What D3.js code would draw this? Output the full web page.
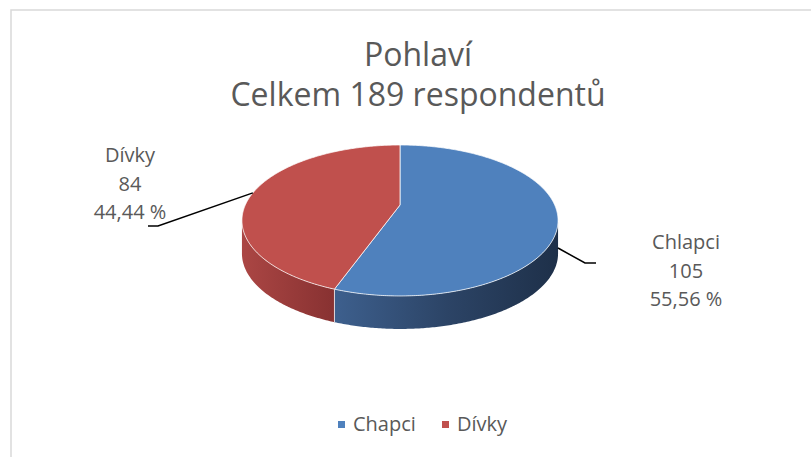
<!DOCTYPE html>
<html>
<head>
<meta charset="utf-8">
<script src="https://cdn.jsdelivr.net/npm/d3@7"></script>
<style>
  body { margin: 0; background: #fff; }
  svg text { font-family: "Open Sans", "Noto Sans", sans-serif; fill: #595959; }
</style>
</head>
<body>
<div id="chart"></div>
<script>
// data
const categories = ["Chlapci", "Dívky"];
const values = [105, 84];
const legendLabels = ["Chapci", "Dívky"];
const titleLines = ["Pohlaví", "Celkem 189 respondentů"];
const colors = ["#4f81bd", "#c0504d"];

var width = 811, height = 457;
var cx = 400, cy = 205;       // projected centre of the top face
var a = 154.7, b = 72.3;      // horizontal / vertical radius factors
var s = 0.205;                // perspective strength
var depth = 33;

var svg = d3.select("#chart").append("svg")
    .attr("width", width)
    .attr("height", height);

// frame
svg.append("rect")
    .attr("x", 11).attr("y", 10)
    .attr("width", 900).attr("height", 500)
    .attr("fill", "none")
    .attr("stroke", "#d9d9d9")
    .attr("stroke-width", 1.5);

// title
svg.selectAll(".title")
    .data(titleLines)
    .enter().append("text")
    .attr("class", "title")
    .attr("x", 418)
    .attr("y", (d, i) => 66 + i * 40)
    .attr("text-anchor", "middle")
    .style("font-size", "32px")
    .text(d => d);

// projection of a point on the pie disc (angle clockwise from top)
function proj(t, r, dy) {
    var u = r * Math.sin(t), v = -r * Math.cos(t);
    var w = 1 - s * v;
    return [cx + a * u / w, cy + b * v / w + (dy || 0)];
}

function arcPoints(t0, t1, dy) {
    var n = Math.max(2, Math.ceil(Math.abs(t1 - t0) / 0.01));
    var pts = [];
    for (var i = 0; i <= n; i++) {
        pts.push(proj(t0 + (t1 - t0) * i / n, 1, dy));
    }
    return pts;
}

var pie = d3.pie().sort(null).value(d => d)(values);
var line = d3.line();

// gradients for the side walls
var defs = svg.append("defs");
var wallStops = [
    [[0, "#3d5f8d"], [0.5, "#2c4466"], [1, "#1e3049"]],
    [[0, "#ab4644"], [1, "#873131"]]
];
var wallX = [[336, 558], [242, 336]];
wallStops.forEach(function(st, i) {
    var g = defs.append("linearGradient")
        .attr("id", "wall" + i)
        .attr("gradientUnits", "userSpaceOnUse")
        .attr("x1", wallX[i][0]).attr("x2", wallX[i][1])
        .attr("y1", 0).attr("y2", 0);
    st.forEach(function(p) {
        g.append("stop").attr("offset", p[0]).attr("stop-color", p[1]);
    });
});

// visible wall range (silhouette of the projected disc)
var tLeft = Math.acos(-s), tRight = 2 * Math.PI - Math.acos(-s);

pie.forEach(function(d, i) {
    var t0 = Math.max(d.startAngle, tLeft);
    var t1 = Math.min(d.endAngle, tRight);
    if (t1 <= t0) return;
    var top = arcPoints(t0, t1, 0);
    var bottom = arcPoints(t0, t1, depth).reverse();
    svg.append("path")
        .attr("d", line(top.concat(bottom)) + "Z")
        .attr("fill", "url(#wall" + i + ")");
});

// seam between walls
pie.forEach(function(d) {
    var t = d.endAngle;
    if (t > tLeft && t < tRight) {
        var p = proj(t, 1, 0);
        svg.append("line")
            .attr("x1", p[0]).attr("y1", p[1])
            .attr("x2", p[0]).attr("y2", p[1] + depth)
            .attr("stroke", "#ffffff")
            .attr("stroke-opacity", 0.7)
            .attr("stroke-width", 1);
    }
});

// top faces
pie.forEach(function(d, i) {
    var pts = [[cx, cy]].concat(arcPoints(d.startAngle, d.endAngle, 0));
    svg.append("path")
        .attr("d", line(pts) + "Z")
        .attr("fill", colors[i])
        .attr("stroke", "#ffffff")
        .attr("stroke-opacity", 0.75)
        .attr("stroke-width", 1)
        .attr("stroke-linejoin", "round");
});

// data labels + leader lines
var total = d3.sum(values);
var fmtPct = v => (v / total * 100).toFixed(2).replace(".", ",") + " %";
var labelPos = [
    { x: 686, y: 249, elbow: [585, 263], end: [596, 263], dy: 30 },
    { x: 130, y: 162, elbow: [158, 226], end: [148, 226], dy: 0 }
];
pie.forEach(function(d, i) {
    var lp = labelPos[i];
    var mid = (d.startAngle + d.endAngle) / 2;
    var start = proj(mid, 1, lp.dy);
    svg.append("path")
        .attr("d", line([start, lp.elbow, lp.end]))
        .attr("fill", "none")
        .attr("stroke", "#000")
        .attr("stroke-width", 1.5);
    var lines = [categories[i], String(values[i]), fmtPct(values[i])];
    svg.selectAll(null)
        .data(lines)
        .enter().append("text")
        .attr("x", lp.x)
        .attr("y", (t, j) => lp.y + j * 28.5)
        .attr("text-anchor", "middle")
        .style("font-size", "20px")
        .text(t => t);
});

// legend
var legendX = [338, 442];
legendLabels.forEach(function(l, i) {
    svg.append("rect")
        .attr("x", legendX[i]).attr("y", 421)
        .attr("width", 7).attr("height", 7)
        .attr("fill", colors[i]);
    svg.append("text")
        .attr("x", legendX[i] + 15)
        .attr("y", 431)
        .style("font-size", "20px")
        .text(l);
});
</script>
</body>
</html>
